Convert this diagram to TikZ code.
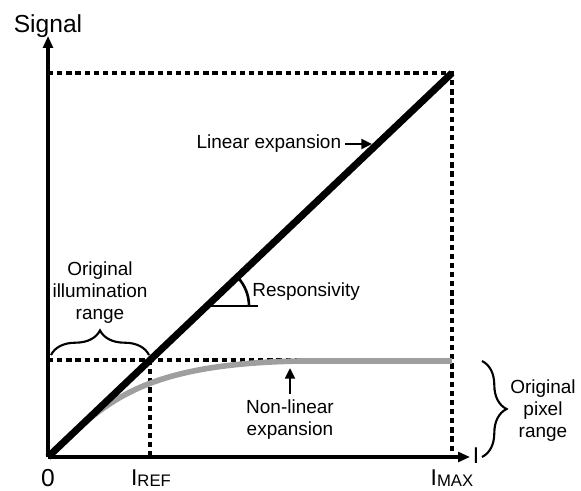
\documentclass[tikz,border=0pt]{standalone}
\usepackage{fontspec}
\setmainfont{Liberation Sans}
\usepackage{xcolor}
\usepackage{tikz}
\usetikzlibrary{arrows.meta, positioning, calc, decorations.pathreplacing}

\begin{document}
\begin{tikzpicture}[
                x=0.02cm, y=0.02cm,
                axis/.style={line width=2.2pt, -{Triangle[length=6.8pt, width=5.6pt]}},
                guide/.style={line width=2.1pt, dash pattern=on 3pt off 2.2pt},
                linear/.style={line width=4pt},
                nonlinear/.style={line width=3.2pt, gray!75},
                pointer/.style={line width=1.5pt, -{Triangle[length=6pt, width=5.5pt]}},
                bracket/.style={decorate, decoration={brace, amplitude=14pt}, line width=1.2pt},
                label/.style={font=\fontsize{10.8}{12.6}\selectfont, align=center, inner sep=0pt},
                big/.style={font=\fontsize{13}{15}\selectfont, inner sep=0pt}
            ]
                \useasboundingbox (0,0) rectangle (581,490);

                % Key points
                \coordinate (O) at (48,33);
                \coordinate (ytip) at (48,454);
                \coordinate (xtip) at (470,33);
                \coordinate (Ptop) at (452,417);
                \coordinate (Ytop) at (48,417);
                \coordinate (Xmax) at (452,33);
                \coordinate (Pref) at (150,130);
                \coordinate (Yref) at (48,130);
                \coordinate (Ysat) at (452,130);
                \coordinate (Xref) at (150,33);
                \coordinate (Gend) at (452,129);

                % Guides
                \draw[guide] (Ytop) -- (Ptop) -- (Xmax);
                \draw[guide] (Yref) -- (Ysat);
                \draw[guide] (Pref) -- (Xref);

                % Curves
                \draw[nonlinear] (O) .. controls (105,88) and (140,126) .. (300,129) -- (Gend);
                \draw[linear] (O) -- (Ptop);

                % Axes
                \draw[axis] (O) -- (ytip);
                \draw[axis] (O) -- (xtip);
                \node[big, font=\fontsize{14}{16}\selectfont, anchor=base] (signal) at (48,457) {Signal};
                \node[big, anchor=center] (ilabel) at (476,34) {I};
                \node[big, font=\fontsize{14}{16}\selectfont, anchor=north] (zero) at (48,21) {0};
                \node[big, anchor=north] (iref) at (151,21) {I\raisebox{-1pt}{\fontsize{9.5}{11}\selectfont REF}};
                \node[big, anchor=north] (imax) at (452,21) {I\raisebox{-1pt}{\fontsize{9.5}{11}\selectfont MAX}};

                % Linear expansion
                \coordinate (LEtip) at (372,346);
                \coordinate (LEstart) at (345,346);
                \draw[pointer] (LEstart) -- (LEtip);
                \node[label, left=2pt of LEstart] (lintext) {Linear expansion};

                % Responsivity
                \coordinate (R) at (207,184);
                \coordinate (Rend) at (258,184);
                \draw[line width=1.5pt] (R) -- (Rend);
                \draw[line width=1.5pt] ($(R)+(42,0)$) arc[start angle=0, end angle=43.5, radius=42];
                \node[label, anchor=west] (resp) at (252,198) {Responsivity};

                % Non-linear expansion
                \coordinate (NLtip) at (290,122);
                \coordinate (NLstart) at (290,96);
                \draw[pointer] (NLstart) -- (NLtip);
                \node[label, below=3pt of NLstart] (nltext) {Non-linear\\expansion};

                % Ranges
                \coordinate (BiL) at (51,135);
                \coordinate (BiR) at (149,135);
                \draw[bracket] (BiL) -- (BiR);
                \node[label, anchor=north] (illum) at (100,229) {Original\\illumination\\range};

                \coordinate (BpT) at (482,129);
                \coordinate (BpB) at (482,33);
                \draw[bracket] (BpT) -- (BpB);
                \node[label, anchor=north] (pixel) at (543,111) {Original\\pixel\\range};
            \end{tikzpicture}
\end{document}
